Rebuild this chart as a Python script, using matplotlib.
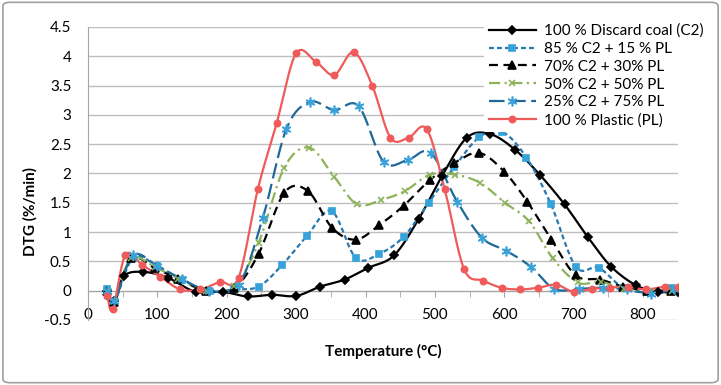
import numpy as np
import matplotlib
matplotlib.use("Agg")
from matplotlib import pyplot as plt
from matplotlib.patches import FancyBboxPatch

plt.rcParams['font.family'] = ['Lato', 'DejaVu Sans']

# series (temperature in C, DTG in %/min)
t_c2 = [27, 38, 52, 80, 115, 155, 194, 230, 265, 300, 335, 370, 404, 441, 477, 510,
        546, 580, 616, 651, 687, 720, 754, 790, 822, 850]
v_c2 = [0.0, -0.18, 0.25, 0.32, 0.22, -0.02, -0.02, -0.1, -0.07, -0.09, 0.07, 0.19, 0.39,
        0.6, 1.23, 1.95, 2.61, 2.67, 2.40, 1.98, 1.47, 0.92, 0.41, 0.09, -0.02, -0.02]

t_85 = [28, 38, 65, 100, 135, 175, 210, 246, 280, 316, 351, 386, 420, 455, 491, 528,
        564, 597, 632, 667, 703, 736, 771, 806, 840]
v_85 = [0.02, -0.2, 0.56, 0.42, 0.18, 0.0, 0.02, 0.07, 0.44, 0.94, 1.36, 0.56, 0.63,
        0.92, 1.50, 2.11, 2.62, 2.71, 2.27, 1.48, 0.41, 0.39, 0.05, -0.03, 0.05]

t_70 = [28, 38, 62, 97, 130, 170, 211, 246, 283, 317, 352, 386, 420, 455, 493, 528,
        564, 600, 633, 668, 703, 738, 771, 806, 840]
v_70 = [0.0, -0.2, 0.55, 0.38, 0.2, 0.0, 0.05, 0.63, 1.67, 1.70, 1.07, 0.87, 1.12, 1.45,
        1.89, 2.18, 2.35, 2.03, 1.52, 0.87, 0.26, 0.19, 0.07, 0.0, 0.0]

t_50 = [28, 38, 62, 97, 130, 170, 211, 246, 283, 319, 355, 388, 423, 457, 493, 529,
        565, 601, 636, 670, 706, 739, 773, 808, 842]
v_50 = [0.0, -0.18, 0.55, 0.4, 0.2, 0.0, 0.08, 0.82, 2.10, 2.44, 1.94, 1.47, 1.55, 1.70,
        1.98, 1.98, 1.84, 1.50, 1.18, 0.55, 0.14, 0.15, 0.03, 0.0, 0.0]

t_25 = [28, 38, 65, 100, 135, 175, 217, 252, 286, 320, 355, 390, 426, 461, 494, 532,
        568, 603, 638, 672, 707, 742, 777, 812, 845]
v_25 = [0.0, -0.18, 0.6, 0.42, 0.2, 0.0, 0.1, 1.24, 2.76, 3.22, 3.08, 3.15, 2.20, 2.23,
        2.35, 1.52, 0.90, 0.68, 0.41, 0.03, 0.03, 0.05, 0.02, -0.05, 0.02]

t_pl = [28, 36, 54, 78, 104, 133, 162, 190, 217, 245, 272, 300, 329, 355, 383, 410, 436,
        462, 488, 514, 542, 570, 596, 622, 649, 675, 700, 726, 752, 778, 804, 832, 850]
v_pl = [-0.1, -0.32, 0.61, 0.44, 0.24, 0.02, 0.02, 0.15, 0.22, 1.74, 2.86, 4.05, 3.90,
        3.68, 4.07, 3.49, 2.61, 2.61, 2.76, 1.74, 0.37, 0.17, 0.05, 0.02, 0.05, 0.10,
        -0.02, 0.03, 0.05, 0.07, 0.02, 0.07, 0.07]

labels = ['100 % Discard coal (C2)', '85 % C2 + 15 % PL', '70% C2 + 30% PL',
          '50% C2 + 50% PL', '25% C2 + 75% PL', '100 % Plastic (PL)']


def smooth(x, y, n=16):
    # excel-like smoothed line: cubic bezier through the points
    p = np.column_stack([x, y]).astype(float)
    p = np.vstack([p[0], p, p[-1]])
    out = []
    s = np.linspace(0, 1, n, endpoint=False)[:, None]
    for i in range(1, len(p) - 2):
        p0, p1, p2, p3 = p[i - 1], p[i], p[i + 1], p[i + 2]
        c1 = p1 + (p2 - p0) / 6
        c2 = p2 - (p3 - p1) / 6
        seg = ((1 - s) ** 3) * p1 + 3 * ((1 - s) ** 2) * s * c1 + 3 * (1 - s) * s ** 2 * c2 + s ** 3 * p2
        out.append(seg)
    out.append(p[-2][None, :])
    out = np.vstack(out)
    return out[:, 0], out[:, 1]


fig = plt.figure(figsize=(7.21, 3.85), dpi=100)
ax = fig.add_axes([0.122, 0.169, 0.818, 0.761])

styles = [
    dict(data=(t_c2, v_c2), color='black', ls='-', marker='D', mc='black', ms=4),
    dict(data=(t_85, v_85), color='#2878b0', ls=(0, (2.2, 1.4)), marker='s', mc='#35a2da', ms=4.5),
    dict(data=(t_70, v_70), color='black', ls=(0, (4, 2.5)), marker='^', mc='black', ms=5.5),
    dict(data=(t_50, v_50), color='#8db25a', ls=(0, (5, 2, 1, 2)), marker='x', mc='#8db25a', ms=5),
    dict(data=(t_25, v_25), color='#1f6898', ls=(0, (7, 2.5)), marker=(6, 2, 0), mc='#3aa2d8', ms=7),
    dict(data=(t_pl, v_pl), color='#ef5a5a', ls='-', marker='o', mc='#ef5a5a', ms=4.5),
]

handles = []
for st, lab in zip(styles, labels):
    t, v = st['data']
    xs, ys = smooth(t, v)
    ax.plot(xs, ys, color=st['color'], ls=st['ls'], lw=1.6, zorder=3)
    ax.plot(t, v, ls='none', marker=st['marker'], ms=st['ms'], color=st['mc'],
            mec=st['mc'], mew=1.2, zorder=4)
    h, = ax.plot([], [], color=st['color'], ls=st['ls'], lw=1.6, marker=st['marker'],
                 ms=st['ms'], mfc=st['mc'], mec=st['mc'], mew=1.2)
    handles.append(h)

ax.set_xlim(0, 850)
ax.set_ylim(-0.5, 4.5)
ax.set_yticks(np.arange(-0.5, 4.51, 0.5))
ax.set_yticklabels(['-0.5', '0', '0.5', '1', '1.5', '2', '2.5', '3', '3.5', '4', '4.5'])
ax.set_xticks(np.arange(0, 801, 100))
ax.set_xticks(np.arange(0, 851, 50), minor=True)
ax.grid(axis='y', color='#bfbfbf', lw=1.0, zorder=0)
ax.set_axisbelow(True)

for s in ['top', 'right']:
    ax.spines[s].set_visible(False)
ax.spines['left'].set_color('#a6a6a6')
ax.spines['bottom'].set_color('#a6a6a6')
ax.spines['bottom'].set_position(('data', 0))
ax.tick_params(axis='y', length=0, pad=12, labelsize=11, colors='black')
ax.tick_params(axis='x', which='both', direction='out', length=4, color='#a6a6a6',
               labelsize=11, pad=8.5)

fig.text(0.042, 0.45, 'DTG (%/min)', rotation=90, ha='center', va='center',
         fontsize=11, fontweight='bold')
fig.text(0.531, 0.086, 'Temperature (°C)', ha='center', va='center',
         fontsize=11, fontweight='bold')

leg = fig.legend(handles, labels, loc='upper left', bbox_to_anchor=(0.661, 0.97),
                 frameon=True, fontsize=11, handlelength=3.1, handletextpad=0.5,
                 labelspacing=0.25, borderpad=0.3)
leg.get_frame().set_edgecolor('none')
leg.get_frame().set_facecolor('white')
leg.get_frame().set_alpha(1)

fig.patches.append(FancyBboxPatch((0.004, 0.006), 0.992, 0.988, boxstyle='round,pad=0,rounding_size=0.01',
                                  transform=fig.transFigure, fill=False, ec='#a0a0a0', lw=1.2))

fig.savefig('out.png', dpi=100)
